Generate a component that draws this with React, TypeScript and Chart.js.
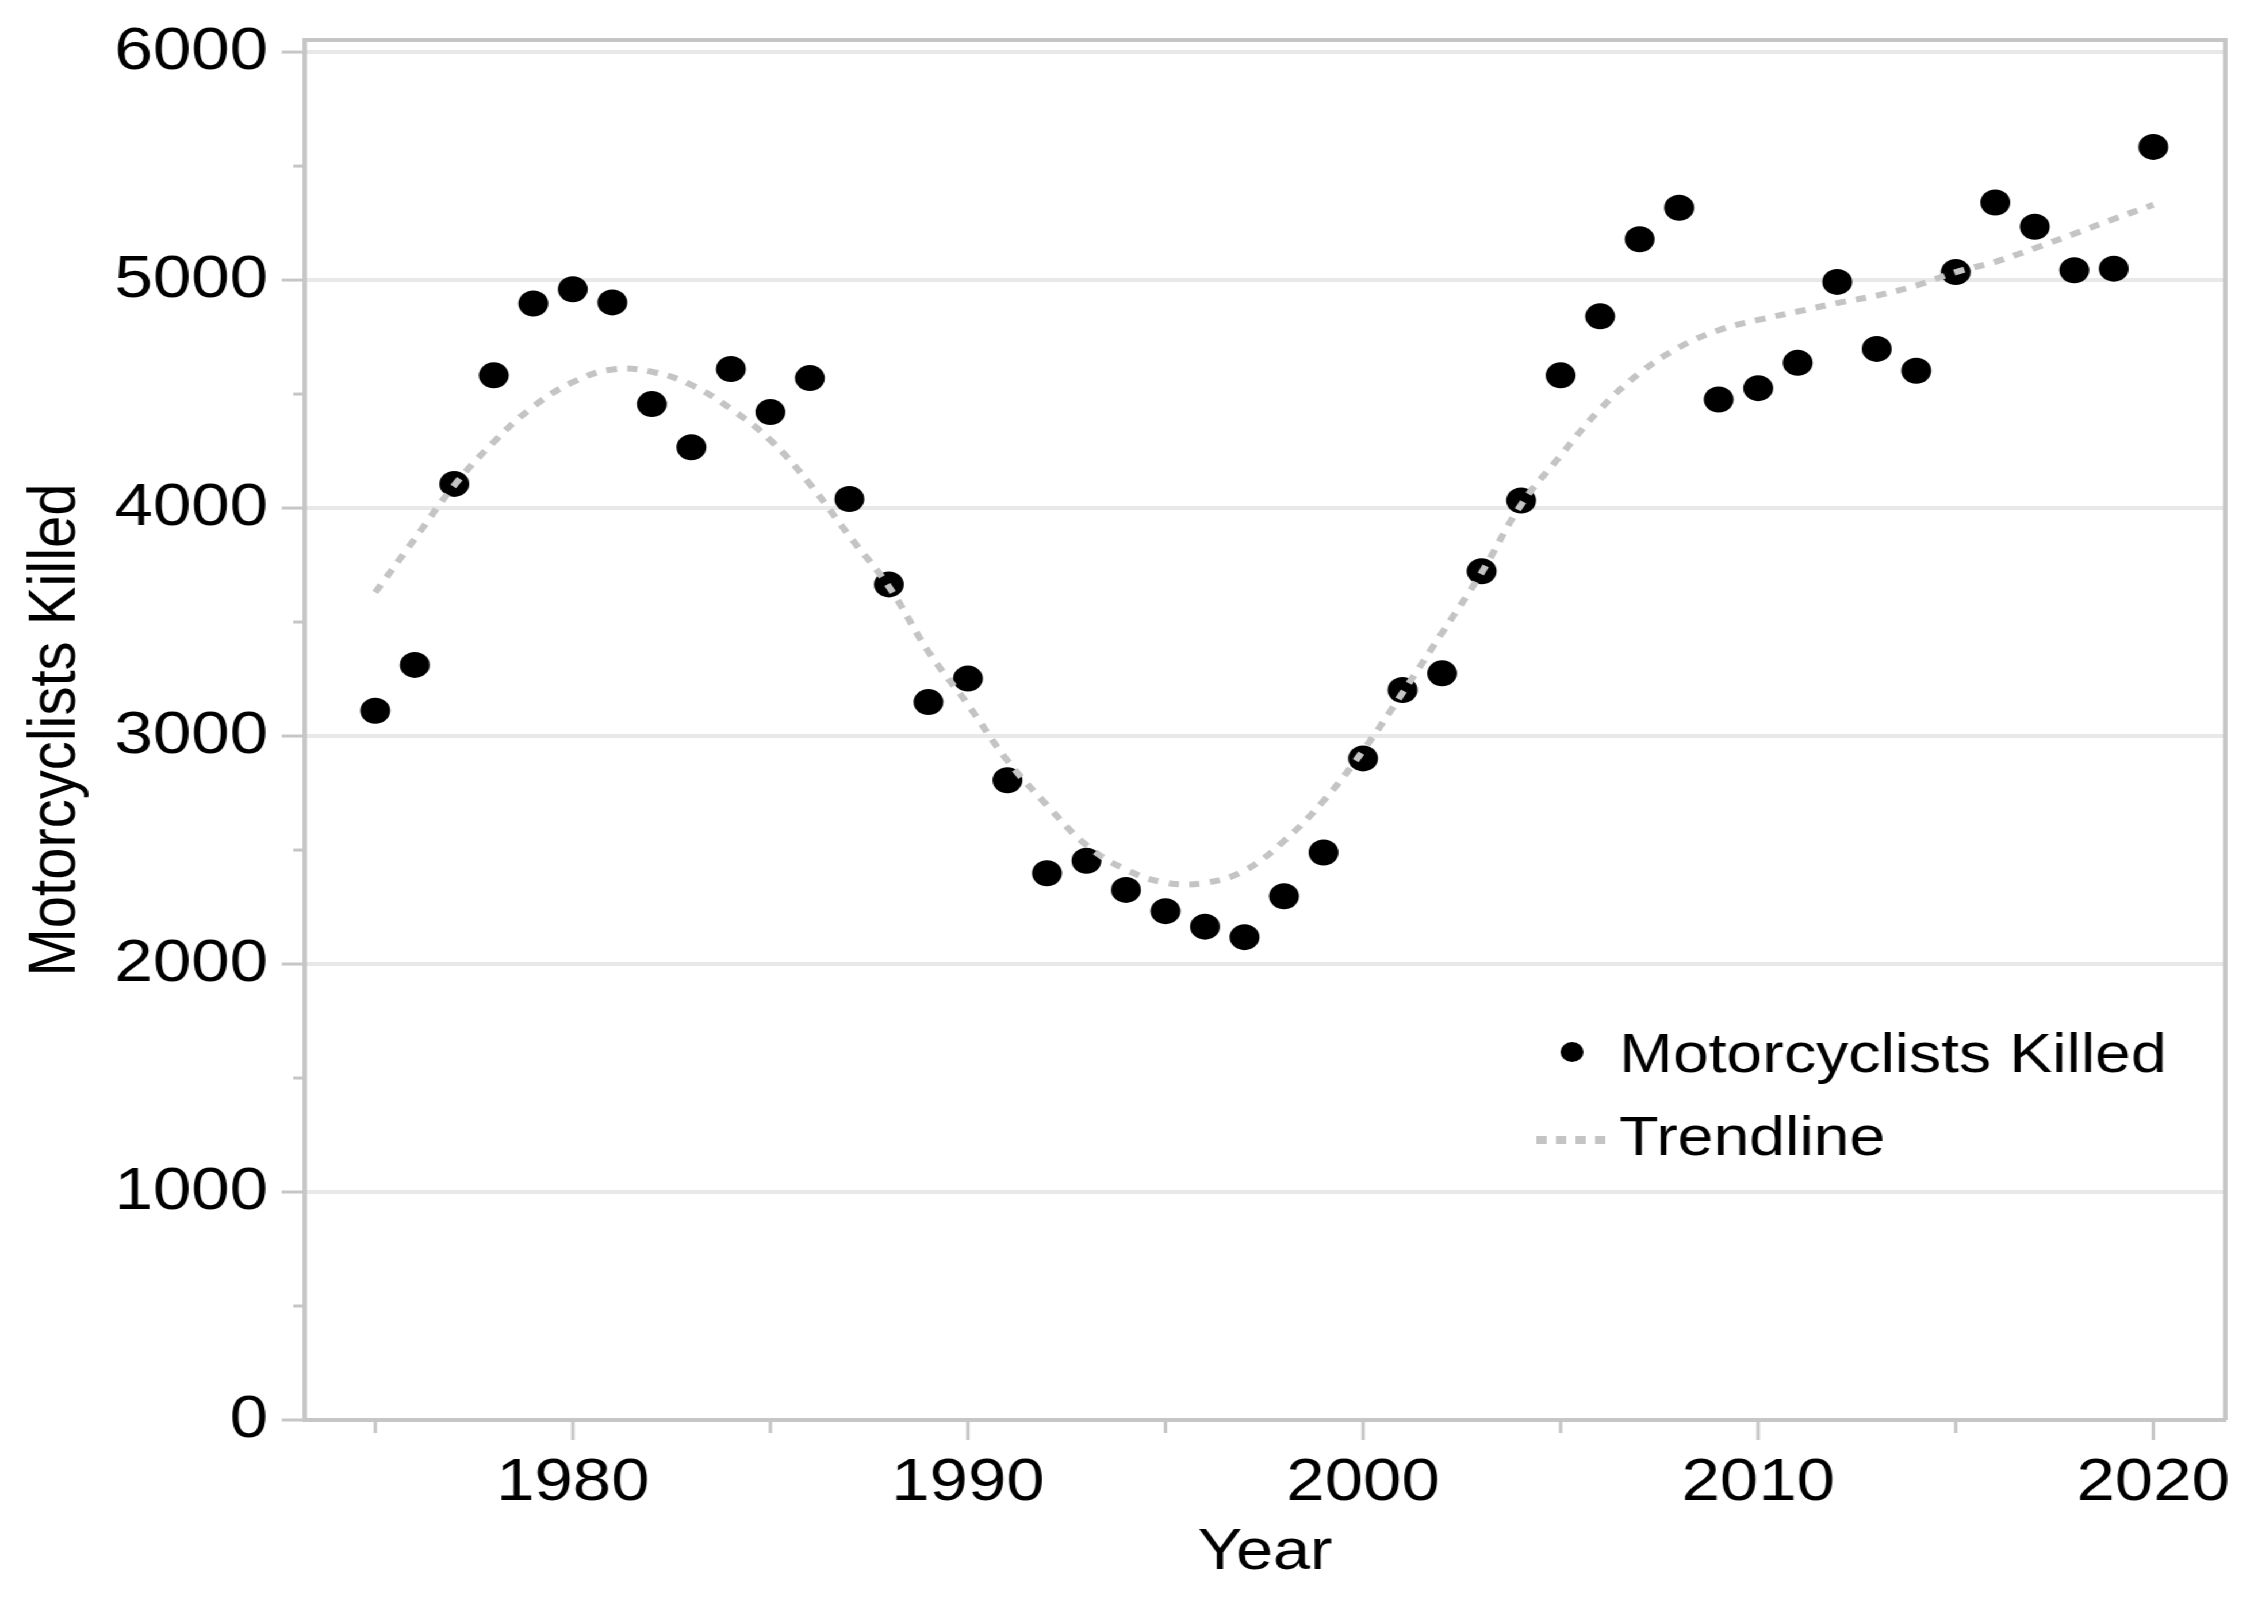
import React, { useEffect, useRef } from "react";
import { Chart, registerables } from "chart.js";

Chart.register(...registerables);

// ---- data ----
const years = [
  1975, 1976, 1977, 1978, 1979, 1980, 1981, 1982, 1983, 1984,
  1985, 1986, 1987, 1988, 1989, 1990, 1991, 1992, 1993, 1994,
  1995, 1996, 1997, 1998, 1999, 2000, 2001, 2002, 2003, 2004,
  2005, 2006, 2007, 2008, 2009, 2010, 2011, 2012, 2013, 2014,
  2015, 2016, 2017, 2018, 2019, 2020,
];

const killed = [
  3111, 3312, 4106, 4582, 4897, 4960, 4902, 4456, 4267, 4610,
  4421, 4570, 4040, 3665, 3149, 3252, 2806, 2398, 2453, 2325,
  2232, 2164, 2118, 2297, 2489, 2902, 3202, 3275, 3723, 4033,
  4582, 4841, 5179, 5317, 4476, 4526, 4637, 4992, 4698, 4602,
  5035, 5340, 5234, 5043, 5050, 5584,
];

const trend = [
  3630, 3865, 4100, 4290, 4445, 4552, 4608, 4598, 4540, 4435,
  4298, 4105, 3877, 3655, 3370, 3138, 2892, 2697, 2521, 2414,
  2357, 2356, 2410, 2540, 2716, 2936, 3190, 3453, 3717, 4015,
  4230, 4434, 4592, 4705, 4780, 4825, 4862, 4899, 4932, 4976,
  5035, 5080, 5140, 5203, 5268, 5330,
];

const yTickValues = [0, 500, 1000, 1500, 2000, 2500, 3000, 3500, 4000, 4500, 5000, 5500, 6000];
const xTickValues = [1975, 1980, 1985, 1990, 1995, 2000, 2005, 2010, 2015, 2020];

const seriesLabel = "Motorcyclists Killed";
const trendLabel = "Trendline";
const xTitle = "Year";
const yTitle = "Motorcyclists Killed";

// ---- layout ----
const STRETCH = 1.15;
const W = Math.round(2257 / STRETCH);
const H = 1598;
const FONT = '"Liberation Sans", Arial, Helvetica, sans-serif';
const AXIS_GRAY = "#c6c6c6";
const GRID_GRAY = "#e8e8e8";
const TREND_GRAY = "#c4c4c4";

export default function App() {
  const ref = useRef<HTMLCanvasElement>(null);

  useEffect(() => {
    document.body.style.margin = "0";
    document.documentElement.style.overflow = "hidden";
    const canvas = ref.current;
    if (!canvas) return;

    const decor = {
      id: "decor",
      afterDraw(chart: any) {
        const ctx = chart.ctx;
        const { left, right, top, bottom } = chart.chartArea;
        const xs = chart.scales.x;
        const ys = chart.scales.y;
        ctx.save();
        ctx.strokeStyle = AXIS_GRAY;
        ctx.lineWidth = 3;
        for (const v of yTickValues) {
          const y = ys.getPixelForValue(v);
          const len = v % 1000 === 0 ? 20 : 10;
          ctx.beginPath();
          ctx.moveTo(left - len, y);
          ctx.lineTo(left, y);
          ctx.stroke();
        }
        for (const v of xTickValues) {
          const x = xs.getPixelForValue(v);
          const len = v % 10 === 0 ? 20 : 13;
          ctx.beginPath();
          ctx.moveTo(x, bottom);
          ctx.lineTo(x, bottom + len);
          ctx.stroke();
        }
        // top and right frame
        ctx.lineWidth = 4;
        ctx.beginPath();
        ctx.moveTo(left, top);
        ctx.lineTo(right, top);
        ctx.lineTo(right, bottom);
        ctx.stroke();

        // legend
        const ds = chart.data.datasets;
        const markerX = 1367;
        const textX = 1408;
        ctx.fillStyle = "#000";
        ctx.beginPath();
        ctx.arc(markerX, 1052, 10, 0, Math.PI * 2);
        ctx.fill();
        ctx.font = `56px ${FONT}`;
        ctx.textBaseline = "alphabetic";
        ctx.textAlign = "left";
        ctx.fillText(ds[0].label, textX, 1072);
        ctx.strokeStyle = TREND_GRAY;
        ctx.lineWidth = 8;
        ctx.setLineDash([9, 8]);
        ctx.beginPath();
        ctx.moveTo(1336, 1140);
        ctx.lineTo(1402, 1140);
        ctx.stroke();
        ctx.setLineDash([]);
        ctx.fillStyle = "#000";
        ctx.fillText(ds[1].label, textX, 1155);
        ctx.restore();
      },
    };

    const chart = new Chart(canvas, {
      type: "scatter",
      data: {
        datasets: [
          {
            type: "scatter",
            label: seriesLabel,
            data: years.map((yr, i) => ({ x: yr, y: killed[i] })),
            pointRadius: 13,
            pointHoverRadius: 13,
            backgroundColor: "#000",
            borderColor: "#000",
            borderWidth: 0,
            order: 2,
          },
          {
            type: "line",
            label: trendLabel,
            data: years.map((yr, i) => ({ x: yr, y: trend[i] })),
            borderColor: TREND_GRAY,
            borderWidth: 6,
            borderDash: [9, 9],
            pointRadius: 0,
            pointHoverRadius: 0,
            tension: 0.4,
            fill: false,
            showLine: true,
            order: 1,
          } as any,
        ],
      },
      options: {
        responsive: false,
        animation: false,
        devicePixelRatio: 1,
        layout: { padding: { left: 0, top: 40, right: W - 1935, bottom: 0 } },
        plugins: {
          legend: { display: false },
          tooltip: { enabled: false },
        },
        scales: {
          x: {
            type: "linear",
            min: 1973.215,
            max: 2021.82,
            afterBuildTicks: (s: any) => {
              s.ticks = xTickValues.map((v) => ({ value: v }));
            },
            afterFit: (s: any) => {
              s.height = 178;
              s.paddingLeft = 0;
              s.paddingRight = 0;
            },
            grid: { display: true, drawOnChartArea: false, drawTicks: false },
            border: { display: true, color: AXIS_GRAY, width: 4 },
            ticks: {
              padding: 27,
              color: "#000",
              autoSkip: false,
              maxRotation: 0,
              font: { family: FONT, size: 60 },
              callback: (v: any) => (Number(v) % 10 === 0 ? String(v) : ""),
            },
            title: {
              display: true,
              text: xTitle,
              color: "#000",
              font: { family: FONT, size: 58 },
              padding: { top: 0, bottom: 10 },
            },
          },
          y: {
            type: "linear",
            min: 0,
            max: 6053,
            afterBuildTicks: (s: any) => {
              s.ticks = yTickValues.map((v) => ({ value: v }));
            },
            afterFit: (s: any) => {
              s.width = 265;
              s.paddingTop = 0;
              s.paddingBottom = 0;
            },
            grid: {
              drawTicks: false,
              lineWidth: 4,
              color: (c: any) =>
                c.tick && c.tick.value % 1000 === 0 && c.tick.value > 0
                  ? GRID_GRAY
                  : "rgba(0,0,0,0)",
            },
            border: { display: true, color: AXIS_GRAY, width: 4 },
            ticks: {
              padding: 32,
              color: "#000",
              autoSkip: false,
              font: { family: FONT, size: 60 },
              callback: (v: any) => (Number(v) % 1000 === 0 ? String(v) : ""),
            },
            title: {
              display: true,
              text: yTitle,
              color: "#000",
              font: { family: FONT, size: 58 },
              padding: { top: 14, bottom: 0 },
            },
          },
        },
      },
      plugins: [decor],
    });

    return () => {
      chart.destroy();
    };
  }, []);

  return (
    <div
      style={{
        position: "absolute",
        left: 0,
        top: 0,
        width: W,
        height: H,
        transform: `scaleX(${STRETCH})`,
        transformOrigin: "0 0",
        background: "#fff",
      }}
    >
      <canvas ref={ref} width={W} height={H} style={{ display: "block" }} />
    </div>
  );
}
